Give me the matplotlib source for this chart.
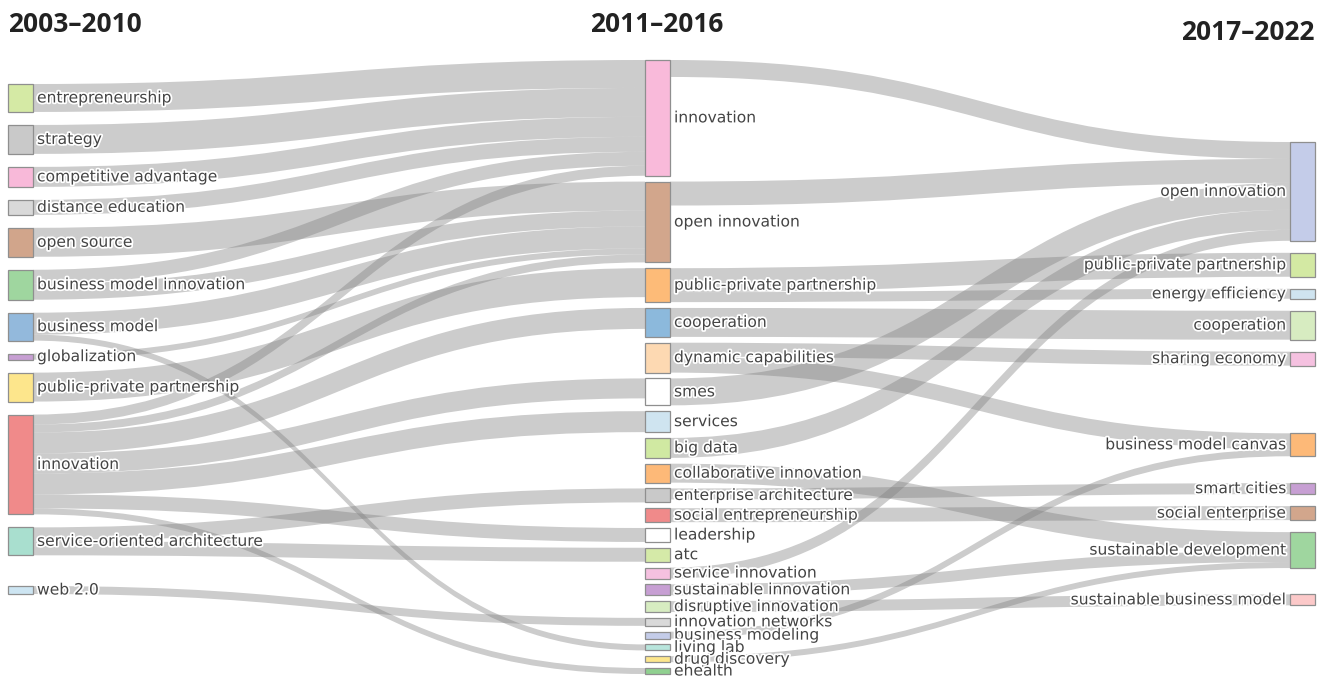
import numpy as np
import matplotlib
matplotlib.use("Agg")
import matplotlib.pyplot as plt
from matplotlib.path import Path
from matplotlib.patches import PathPatch, Rectangle
import matplotlib.patheffects as pe

# ---------------- data ----------------
periods = ["2003–2010", "2011–2016", "2017–2022"]

p1_labels = ["entrepreneurship", "strategy", "competitive advantage", "distance education",
             "open source", "business model innovation", "business model", "globalization",
             "public-private partnership", "innovation", "service-oriented architecture", "web 2.0"]
p1_colors = ["#d5eaa5", "#c9c9c9", "#f8b9d9", "#d9d9d9", "#d1a58b", "#9fd69f", "#93b9dc",
             "#c79fd3", "#fde68c", "#f08a8a", "#a9dfcf", "#cde5f2"]

p2_labels = ["innovation", "open innovation", "public-private partnership", "cooperation",
             "dynamic capabilities", "smes", "services", "big data", "collaborative innovation",
             "enterprise architecture", "social entrepreneurship", "leadership", "atc",
             "service innovation", "sustainable innovation", "disruptive innovation",
             "innovation networks", "business modeling", "living lab", "drug discovery", "ehealth"]
p2_colors = ["#f9bada", "#d2a68c", "#fdbb78", "#8cb9dc", "#fdd9b2", "#ffffff", "#cfe4f0",
             "#d0e9a2", "#fdb978", "#c9c9c9", "#f08a8a", "#ffffff", "#d5eaa8", "#f5c1e0",
             "#c79fd3", "#d7ecc1", "#d9d9d9", "#c4cce9", "#b8e5dc", "#fde68c", "#90d090"]

p3_labels = ["open innovation", "public-private partnership", "energy efficiency", "cooperation",
             "sharing economy", "business model canvas", "smart cities", "social enterprise",
             "sustainable development", "sustainable business model"]
p3_colors = ["#c4cce9", "#d3e9a3", "#cfe4f0", "#d7ecc1", "#f5c1e0", "#fdb978", "#c79fd3",
             "#d2a68c", "#9fd69f", "#fcc9c9"]

# flows 2003–2010 -> 2011–2016
flow12_src = ["entrepreneurship", "strategy", "competitive advantage", "distance education",
              "business model innovation", "innovation", "open source", "business model innovation",
              "business model", "globalization", "innovation", "public-private partnership",
              "innovation", "innovation", "innovation", "innovation", "innovation",
              "business model", "service-oriented architecture", "service-oriented architecture",
              "web 2.0"]
flow12_tgt = ["innovation", "innovation", "innovation", "innovation", "innovation", "innovation",
              "open innovation", "open innovation", "open innovation", "open innovation",
              "open innovation", "public-private partnership", "cooperation", "smes", "services",
              "leadership", "ehealth", "living lab", "enterprise architecture", "atc",
              "innovation networks"]
flow12_val = [28, 29, 20, 15, 14, 10, 29, 16, 22, 6, 8, 29, 21, 20, 21, 14, 6, 6, 14, 14, 8]

# flows 2011–2016 -> 2017–2022
flow23_src = ["innovation", "open innovation", "public-private partnership",
              "public-private partnership", "cooperation", "dynamic capabilities",
              "dynamic capabilities", "smes", "big data", "service innovation",
              "collaborative innovation", "enterprise architecture", "social entrepreneurship",
              "sustainable innovation", "disruptive innovation", "drug discovery",
              "business modeling"]
flow23_tgt = ["open innovation", "open innovation", "public-private partnership",
              "energy efficiency", "cooperation", "sharing economy", "business model canvas",
              "open innovation", "open innovation", "open innovation", "sustainable development",
              "smart cities", "social enterprise", "sustainable development",
              "sustainable business model", "sustainable development", "business model canvas"]
flow23_val = [17, 24, 24, 10, 29, 14, 16, 27, 20, 11, 19, 11, 14, 11, 11, 6, 7]

# ---------------- layout (d3-sankey style relaxation) ----------------
W, H = 1330, 679
COL_X = [8, 645, 1290]              # left edge of each period's node column
NW = 25                              # node thickness
COL_SPAN = [(84, 594), (60, 674), (142, 606)]   # vertical domain of each column
COL_PAD = [13.0, 5.8, 12.0]          # node padding of each column
ITER = 32

nodes = []
index = {}
for c, (labs, cls) in enumerate([(p1_labels, p1_colors), (p2_labels, p2_colors),
                                  (p3_labels, p3_colors)]):
    for lab, col in zip(labs, cls):
        index[(c, lab)] = len(nodes)
        nodes.append(dict(col=c, label=lab, color=col, src=[], tgt=[]))

links = []
for c, (S, T, V) in enumerate([(flow12_src, flow12_tgt, flow12_val),
                               (flow23_src, flow23_tgt, flow23_val)]):
    for s, t, v in zip(S, T, V):
        L = dict(s=index[(c, s)], t=index[(c + 1, t)], v=v)
        links.append(L)
        nodes[L['s']]['src'].append(L)
        nodes[L['t']]['tgt'].append(L)

for n in nodes:
    n['value'] = max(sum(l['v'] for l in n['src']), sum(l['v'] for l in n['tgt']))

columns = [[n for n in nodes if n['col'] == c] for c in range(3)]
ky = min((hi - lo - (len(c) - 1) * pad) / sum(n['value'] for n in c)
         for c, (lo, hi), pad in zip(columns, COL_SPAN, COL_PAD))
for c, (lo, hi), pad in zip(columns, COL_SPAN, COL_PAD):
    y = lo
    for n in c:
        n['y0'] = y
        n['y1'] = y + n['value'] * ky
        y = n['y1'] + pad
    extra = (hi - y + pad) / (len(c) + 1)
    for i, n in enumerate(c):
        n['y0'] += extra * (i + 1)
        n['y1'] += extra * (i + 1)
for l in links:
    l['w'] = l['v'] * ky


def reorder_all():
    for n in nodes:
        n['src'].sort(key=lambda l: nodes[l['t']]['y0'])
        n['tgt'].sort(key=lambda l: nodes[l['s']]['y0'])


def target_top(s, t):
    py = COL_PAD[s['col']]
    y = s['y0'] - (len(s['src']) - 1) * py / 2
    for l in s['src']:
        if nodes[l['t']] is t:
            break
        y += l['w'] + py
    for l in t['tgt']:
        if nodes[l['s']] is s:
            break
        y -= l['w']
    return y


def source_top(s, t):
    py = COL_PAD[t['col']]
    y = t['y0'] - (len(t['tgt']) - 1) * py / 2
    for l in t['tgt']:
        if nodes[l['s']] is s:
            break
        y += l['w'] + py
    for l in s['src']:
        if nodes[l['t']] is t:
            break
        y -= l['w']
    return y


def top_to_bottom(c, y, i, alpha, pad):
    while i < len(c):
        n = c[i]
        dy = (y - n['y0']) * alpha
        if dy > 1e-6:
            n['y0'] += dy
            n['y1'] += dy
        y = n['y1'] + pad
        i += 1


def bottom_to_top(c, y, i, alpha, pad):
    while i >= 0:
        n = c[i]
        dy = (n['y1'] - y) * alpha
        if dy > 1e-6:
            n['y0'] -= dy
            n['y1'] -= dy
        y = n['y0'] - pad
        i -= 1


def resolve(k, alpha):
    c = columns[k]
    lo, hi = COL_SPAN[k]
    pad = COL_PAD[k]
    i = len(c) >> 1
    sub = c[i]
    bottom_to_top(c, sub['y0'] - pad, i - 1, alpha, pad)
    top_to_bottom(c, sub['y1'] + pad, i + 1, alpha, pad)
    bottom_to_top(c, hi, len(c) - 1, alpha, pad)
    top_to_bottom(c, lo, 0, alpha, pad)


def relax_lr(alpha, beta):
    for k in range(1, 3):
        for t in columns[k]:
            y = w = 0.0
            for l in t['tgt']:
                s = nodes[l['s']]
                v = l['v'] * (t['col'] - s['col'])
                y += target_top(s, t) * v
                w += v
            if w > 0:
                dy = (y / w - t['y0']) * alpha
                t['y0'] += dy
                t['y1'] += dy
                reorder_all()
        resolve(k, beta)


def relax_rl(alpha, beta):
    for k in (1, 0):
        for s in columns[k]:
            y = w = 0.0
            for l in s['src']:
                t = nodes[l['t']]
                v = l['v'] * (t['col'] - s['col'])
                y += source_top(s, t) * v
                w += v
            if w > 0:
                dy = (y / w - s['y0']) * alpha
                s['y0'] += dy
                s['y1'] += dy
                reorder_all()
        resolve(k, beta)


reorder_all()
for i in range(ITER):
    alpha = 0.99 ** i
    beta = max(1 - alpha, (i + 1) / ITER)
    relax_rl(alpha, beta)
    relax_lr(alpha, beta)
reorder_all()

for n in nodes:
    y0 = y1 = n['y0']
    for l in n['src']:
        l['ys'] = y0
        y0 += l['w']
    for l in n['tgt']:
        l['yt'] = y1
        y1 += l['w']

# ---------------- drawing ----------------
fig = plt.figure(figsize=(W / 100, H / 100), dpi=100)
ax = fig.add_axes([0, 0, 1, 1])
ax.set_xlim(0, W)
ax.set_ylim(H, 0)
ax.axis('off')

for l in links:
    s, t = nodes[l['s']], nodes[l['t']]
    xs = COL_X[s['col']] + NW
    xt = COL_X[t['col']]
    xm = (xs + xt) / 2
    a0, a1 = l['ys'], l['ys'] + l['w']
    b0, b1 = l['yt'], l['yt'] + l['w']
    verts = [(xs, a0), (xm, a0), (xm, b0), (xt, b0),
             (xt, b1), (xm, b1), (xm, a1), (xs, a1), (xs, a0)]
    codes = [Path.MOVETO, Path.CURVE4, Path.CURVE4, Path.CURVE4,
             Path.LINETO, Path.CURVE4, Path.CURVE4, Path.CURVE4, Path.CLOSEPOLY]
    ax.add_patch(PathPatch(Path(verts, codes), facecolor=(0.5, 0.5, 0.5, 0.4),
                           edgecolor='none', zorder=1))

halo = [pe.withStroke(linewidth=2.5, foreground='white')]
for n in nodes:
    x = COL_X[n['col']]
    ax.add_patch(Rectangle((x, n['y0']), NW, n['y1'] - n['y0'], facecolor=n['color'],
                           edgecolor='#8f8f8f', linewidth=0.9, zorder=2))
    yc = (n['y0'] + n['y1']) / 2
    if n['col'] < 2:
        ax.text(x + NW + 4, yc, n['label'], ha='left', va='center', fontsize=11.2,
                color='#444444', family='DejaVu Sans', zorder=3, path_effects=halo)
    else:
        ax.text(x - 4, yc, n['label'], ha='right', va='center', fontsize=11.2,
                color='#444444', family='DejaVu Sans', zorder=3, path_effects=halo)

tkw = dict(fontsize=19, fontweight='bold', family='Open Sans', color='#222222', va='center')
ax.text(8, 25, periods[0], ha='left', **tkw)
ax.text(657, 24, periods[1], ha='center', **tkw)
ax.text(1315, 32, periods[2], ha='right', **tkw)

fig.savefig('out.png', dpi=100)
